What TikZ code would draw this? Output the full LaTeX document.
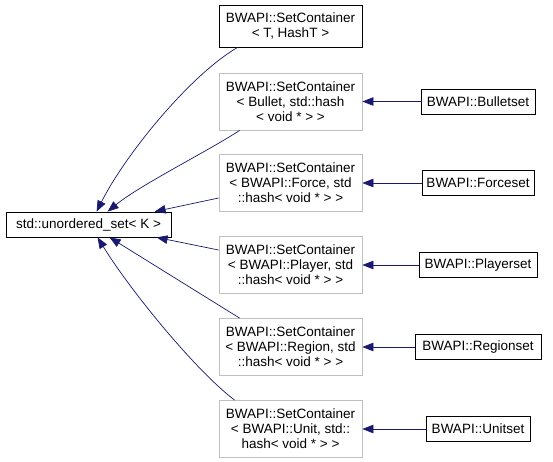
\documentclass[tikz,border=0pt]{standalone}
\usepackage{fontspec}
\setmainfont{Liberation Sans}
\usetikzlibrary{arrows.meta,calc}
\definecolor{edgeblue}{RGB}{25,25,112}
\definecolor{boxgray}{RGB}{191,191,191}
\begin{document}
\begin{tikzpicture}[x=1pt,y=-1pt,
  base/.style={draw, line width=0.8pt, inner sep=0pt, align=center, font=\fontsize{13.5}{15}\selectfont, text=black},
  blackbox/.style={base, draw=black},
  graybox/.style={base, draw=boxgray, minimum width=143pt, minimum height=57pt},
  setbox/.style={blackbox, minimum height=25pt},
  arr/.style={draw=edgeblue, line width=0.7pt, -{Triangle[length=11pt,width=8.5pt]}}]
\useasboundingbox (0,0) rectangle (553,461);
\fill[white] (0,0) rectangle (553,461);

\node[blackbox, minimum width=165pt, minimum height=25pt] (set) at (88.5,224.5) {std::unordered\_set< K >};
\node[blackbox, minimum width=143pt, minimum height=42pt] (tc) at (290.5,26) {BWAPI::SetContainer\\< T, HashT >};
\node[graybox] (bc) at (290.5,101.5) {BWAPI::SetContainer\\< Bullet, std::hash\\< void * > >};
\node[graybox] (fc) at (290.5,183) {BWAPI::SetContainer\\< BWAPI::Force, std\\::hash< void * > >};
\node[graybox] (pc) at (290.5,265) {BWAPI::SetContainer\\< BWAPI::Player, std\\::hash< void * > >};
\node[graybox] (rc) at (290.5,347) {BWAPI::SetContainer\\< BWAPI::Region, std\\::hash< void * > >};
\node[graybox] (uc) at (290.5,429) {BWAPI::SetContainer\\< BWAPI::Unit, std::\\hash< void * > >};

\node[setbox, minimum width=114pt] (bs) at (478,101.5) {BWAPI::Bulletset};
\node[setbox, minimum width=112pt] (fs) at (478,183) {BWAPI::Forceset};
\node[setbox, minimum width=118pt] (ps) at (478,265) {BWAPI::Playerset};
\node[setbox, minimum width=126pt] (rs) at (478,347) {BWAPI::Regionset};
\node[setbox, minimum width=104pt] (us) at (478,429) {BWAPI::Unitset};

\draw[arr] ($(tc.south west)+(19,0)$) .. controls (190,75) and (125,155) .. ($(set.north west)+(91,0)$);
\draw[arr] ($(bc.south west)+(21,0)$) .. controls (210,150) and (140,185) .. ($(set.north west)+(102,0)$);
\draw[arr] ($(fc.west)+(0,15)$) -- ($(set.north west)+(149,0)$);
\draw[arr] ($(pc.west)+(0,-15)$) -- ($(set.south west)+(151,0)$);
\draw[arr] ($(rc.north west)+(21,0)$) -- ($(set.south west)+(104,0)$);
\draw[arr] ($(uc.north west)+(16,0)$) .. controls (195,370) and (130,290) .. ($(set.south west)+(92,0)$);

\draw[arr] (bs) -- (bc);
\draw[arr] (fs) -- (fc);
\draw[arr] (ps) -- (pc);
\draw[arr] (rs) -- (rc);
\draw[arr] (us) -- (uc);
\end{tikzpicture}
\end{document}
